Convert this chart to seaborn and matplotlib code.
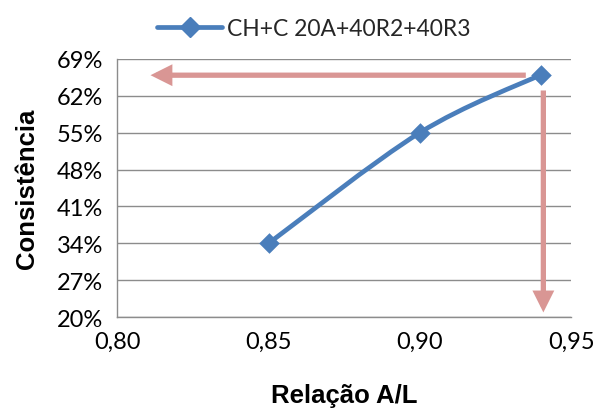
import numpy as np
import pandas as pd
import matplotlib
matplotlib.use("Agg")
import matplotlib.pyplot as plt
from matplotlib.path import Path
from matplotlib.patches import PathPatch
from matplotlib.lines import Line2D
from matplotlib.ticker import FixedLocator, FuncFormatter
import seaborn as sns

# Data
relacao_al = [0.85, 0.90, 0.94]
consistencia = [0.34, 0.55, 0.66]
serie = "CH+C 20A+40R2+40R3"
y_ticks = [0.20, 0.27, 0.34, 0.41, 0.48, 0.55, 0.62, 0.69]
x_ticks = [0.80, 0.85, 0.90, 0.95]

blue = "#4a7ebb"
pink = "#d99694"

sns.set_theme(style="white")
plt.rcParams["font.family"] = ["Lato", "DejaVu Sans"]

df = pd.DataFrame({"x": relacao_al, "y": consistencia})

fig = plt.figure(figsize=(5.95, 4.10), dpi=100)
ax = fig.add_axes([0.197, 0.224, 0.763, 0.630])

# Smoothed line (Catmull-Rom style Bezier segments through the points)
pts = df[["x", "y"]].to_numpy()
n = len(pts)
verts = [tuple(pts[0])]
codes = [Path.MOVETO]
for i in range(n - 1):
    p0 = pts[i - 1] if i > 0 else pts[i]
    p1 = pts[i]
    p2 = pts[i + 1]
    p3 = pts[i + 2] if i + 2 < n else pts[i + 1]
    c1 = p1 + (p2 - p0) / 6.0
    c2 = p2 - (p3 - p1) / 6.0
    verts += [tuple(c1), tuple(c2), tuple(p2)]
    codes += [Path.CURVE4] * 3
ax.add_patch(PathPatch(Path(verts, codes), facecolor="none", edgecolor=blue,
                       lw=3.4, capstyle="round", zorder=3))

sns.scatterplot(data=df, x="x", y="y", marker="D", s=110, color=blue,
                edgecolor=blue, linewidth=0, ax=ax, zorder=4, legend=False)

# Reading arrows
arrow_style = dict(arrowstyle="-|>,head_length=0.8,head_width=0.4",
                   color=pink, lw=3.8, shrinkA=0, shrinkB=0,
                   capstyle="butt", joinstyle="miter")
ax.annotate("", xy=(0.811, 0.659), xytext=(0.935, 0.659),
            arrowprops=arrow_style, zorder=2)
ax.annotate("", xy=(0.9408, 0.209), xytext=(0.9408, 0.630),
            arrowprops=arrow_style, zorder=2)

ax.set_xlim(0.80, 0.95)
ax.set_ylim(0.20, 0.69)
ax.xaxis.set_major_locator(FixedLocator(x_ticks))
ax.yaxis.set_major_locator(FixedLocator(y_ticks))
ax.xaxis.set_major_formatter(FuncFormatter(lambda v, p: f"{v:.2f}".replace(".", ",")))
ax.yaxis.set_major_formatter(FuncFormatter(lambda v, p: f"{round(v * 100):d}%"))

ax.grid(axis="y", color="#8c8c8c", lw=1.0)
ax.grid(axis="x", visible=False)
for s in ["top", "right"]:
    ax.spines[s].set_visible(False)
for s in ["left", "bottom"]:
    ax.spines[s].set_color("#8c8c8c")
    ax.spines[s].set_linewidth(1.0)
ax.tick_params(axis="both", direction="out", length=5, width=1.0, color="#8c8c8c",
               labelsize=17, labelcolor="black", pad=5)

ax.set_xlabel("Relação A/L", fontsize=18.5, fontweight="bold", color="black",
              family=["Liberation Sans"], labelpad=22)
ax.set_ylabel("Consistência", fontsize=18.5, fontweight="bold", color="black",
              family=["Liberation Sans"], labelpad=13)

handle = Line2D([0], [0], color=blue, lw=3.4, marker="D", markersize=10,
                markerfacecolor=blue, markeredgecolor=blue)
fig.legend([handle], [serie], loc="center", bbox_to_anchor=(0.528, 0.928),
           frameon=False, fontsize=16.5, handlelength=2.8, handletextpad=0.25)

fig.savefig("out.png", dpi=100)
